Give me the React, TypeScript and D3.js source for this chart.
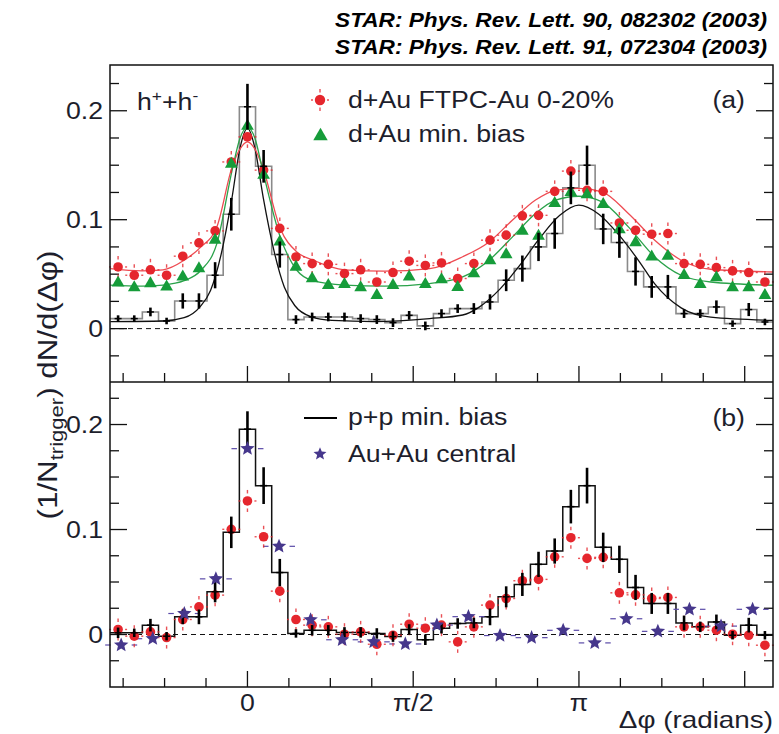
import React from "react";
import * as d3 from "d3";

// ---------- binning (categories) ----------
const NB = 41;
const BW = (2 * Math.PI) / NB;
const bins = d3.range(-8, 33); // 41 bins
const phiBins = bins.map((k) => k * BW);
const SB = 21;
const SW = (2 * Math.PI) / SB;
const starBins = d3.range(-4, 17); // 21 bins
const phiStars = starBins.map((j) => j * SW);

// ---------- panel (a) ----------
const ppA = [
  0.0092, 0.0092, 0.0153, 0.007, 0.0254, 0.0254, 0.049, 0.105,
  0.2037, 0.149, 0.068, 0.0083, 0.0107, 0.0107, 0.0107, 0.0092, 0.0083, 0.0055, 0.0122, 0.0025, 0.0138,
  0.0184, 0.0184, 0.0245, 0.0444, 0.0551, 0.075, 0.0873, 0.1292, 0.15, 0.0915, 0.079, 0.0525, 0.0383,
  0.0383, 0.0138, 0.0138, 0.0199, 0.0046, 0.0175, 0.0061,
];
const ppAErr = [
  0.003, 0.003, 0.004, 0.003, 0.007, 0.007, 0.012, 0.015,
  0.021, 0.015, 0.012, 0.004, 0.004, 0.004, 0.004, 0.004, 0.004, 0.004, 0.004, 0.004, 0.004,
  0.004, 0.005, 0.007, 0.01, 0.012, 0.013, 0.014, 0.015, 0.018, 0.014, 0.014, 0.013, 0.01,
  0.011, 0.004, 0.004, 0.006, 0.003, 0.006, 0.003,
];
const dAuCentralA = [
  0.0566, 0.049, 0.054, 0.049, 0.0665, 0.0787, 0.0897, 0.153,
  0.176, 0.1455, 0.092, 0.0658, 0.0597, 0.059, 0.0505, 0.054, 0.0428, 0.0515, 0.0619, 0.058, 0.0603,
  0.046, 0.0597, 0.0812, 0.0858, 0.1035, 0.104, 0.126, 0.1446, 0.127, 0.126, 0.097, 0.0903, 0.0867,
  0.0873, 0.0597, 0.059, 0.056, 0.053, 0.0515, 0.0428,
];
const dAuMinBiasA = [
  0.042, 0.0377, 0.0414, 0.0383, 0.0475, 0.0551, 0.0812, 0.151,
  0.186, 0.141, 0.0796, 0.0566, 0.046, 0.0398, 0.0407, 0.0377, 0.0306, 0.0398, 0.0475, 0.0407, 0.045,
  0.038, 0.0505, 0.0625, 0.068, 0.0895, 0.085, 0.115, 0.125, 0.123, 0.114, 0.091, 0.079, 0.0658,
  0.0665, 0.049, 0.0407, 0.0469, 0.0377, 0.0377, 0.0306,
];
const fitPpA: [number, number][] = [
  [-1.3, 0.0065], [-0.8, 0.007], [-0.6, 0.01], [-0.45, 0.02], [-0.35, 0.035], [-0.25, 0.068],
  [-0.15, 0.118], [-0.07, 0.166], [0, 0.184], [0.07, 0.166], [0.15, 0.12], [0.25, 0.072],
  [0.35, 0.038], [0.45, 0.021], [0.6, 0.011], [0.8, 0.0075], [1.2, 0.0065], [1.727, 0.0092],
  [2.04, 0.0125], [2.2, 0.02], [2.39, 0.036], [2.58, 0.058], [2.77, 0.083], [2.96, 0.104],
  [3.14, 0.1133], [3.33, 0.105], [3.52, 0.086], [3.71, 0.062], [3.86, 0.041], [4.11, 0.019],
  [4.39, 0.0105], [4.98, 0.0076],
];
const fitCentralA: [number, number][] = [
  [-1.3, 0.055], [-1.0, 0.053], [-0.8, 0.054], [-0.6, 0.0628], [-0.44, 0.075], [-0.29, 0.0934],
  [-0.145, 0.1485], [-0.07, 0.165], [0, 0.1715], [0.07, 0.165], [0.145, 0.148], [0.311, 0.092],
  [0.468, 0.0704], [0.62, 0.063], [0.92, 0.054], [1.3, 0.0527], [1.727, 0.055], [2.04, 0.066],
  [2.29, 0.0796], [2.51, 0.0995], [2.73, 0.118], [2.92, 0.127], [3.14, 0.1287], [3.36, 0.1256],
  [3.61, 0.1057], [3.86, 0.0812], [4.11, 0.0628], [4.39, 0.0545], [4.98, 0.052],
];
const fitMinBiasA: [number, number][] = [
  [-1.3, 0.04], [-1.0, 0.039], [-0.8, 0.04], [-0.6, 0.044], [-0.44, 0.0536], [-0.29, 0.078],
  [-0.145, 0.1455], [-0.07, 0.175], [0, 0.185], [0.07, 0.175], [0.145, 0.145], [0.311, 0.084],
  [0.468, 0.0536], [0.62, 0.044], [0.92, 0.04], [1.3, 0.039], [1.727, 0.0414], [2.04, 0.0475],
  [2.29, 0.0628], [2.51, 0.084], [2.73, 0.1057], [2.92, 0.118], [3.14, 0.1215], [3.36, 0.1164],
  [3.61, 0.0934], [3.86, 0.0658], [4.11, 0.049], [4.39, 0.0428], [4.98, 0.0398],
];

// ---------- panel (b) ----------
const ppB = [
  0.0016, 0.0016, 0.0089, -0.0016, 0.0168, 0.0168, 0.0407, 0.0973,
  0.1956, 0.1418, 0.059, 0.001, 0.004, 0.004, 0.002, 0.002, 0.001, -0.002, 0.0048, -0.005, 0.006,
  0.0105, 0.011, 0.0168, 0.0359, 0.0477, 0.0668, 0.0795, 0.1218, 0.1418, 0.083, 0.0716, 0.0448, 0.0296,
  0.0296, 0.011, 0.0073, 0.012, -0.0007, 0.0089, -0.0007,
];
const ppBErr = [
  0.005, 0.004, 0.006, 0.004, 0.007, 0.007, 0.01, 0.015,
  0.017, 0.0175, 0.013, 0.004, 0.005, 0.005, 0.005, 0.005, 0.005, 0.005, 0.005, 0.005, 0.005,
  0.005, 0.005, 0.008, 0.01, 0.011, 0.012, 0.012, 0.016, 0.017, 0.014, 0.013, 0.012, 0.01,
  0.01, 0.007, 0.005, 0.007, 0.004, 0.007, 0.004,
];
const dAuCentralB = [
  0.0048, -0.0016, 0.0025, -0.0029, 0.0143, 0.0263, 0.0375, 0.1002,
  0.1272, 0.0931, 0.0413, 0.0143, 0.0089, 0.0073, 0.0003, 0.0025, -0.0093, -0.0007, 0.0098, 0.006, 0.0089,
  -0.007, 0.0073, 0.028, 0.0343, 0.0512, 0.0525, 0.074, 0.0922, 0.0725, 0.0735, 0.0397, 0.0378, 0.0343,
  0.0353, 0.0073, 0.0073, 0.0041, 0.0003, -0.0007, -0.0102,
];
const auAuB = [
  -0.01, -0.004, 0.02, 0.053, 0.177, 0.084, 0.014, -0.005, -0.007, -0.009, 0.009,
  0.017, -0.001, -0.003, 0.004, -0.008, 0.015, 0.003, 0.024, 0.008, 0.024,
];

const xTickVals = d3.range(-3, 13).map((i) => (i * Math.PI) / 8);
const yTickVals = d3.range(-1, 10).map((i) => i * 0.025);
const yTickLabels = ["0", "0.1", "0.2"];
const yTickLabelVals = [0, 0.1, 0.2];
const xTickLabels = ["0", "π/2", "π"];
const xTickLabelVals = [0, Math.PI / 2, Math.PI];

// ---------- layout ----------
const W = 779, H = 734;
const L = 110, R = 773, T = 65, M = 382, B = 687;
const FONT = "'Liberation Sans', Arial, Helvetica, sans-serif";
const TXT = "#1d1e2c";
const RED = "#e5262d";
const GREEN = "#169c3a";
const PURPLE = "#46378c";
const SX = 1.16;

const x = d3.scaleLinear().domain([-8.5 * BW, 32.5 * BW]).range([L, R]);
const yA = d3.scaleLinear().domain([-0.049, 0.242]).range([M, T]);
const yB = d3.scaleLinear().domain([-0.05, 0.2405]).range([B, M]);

function stepPath(vals: number[], y: d3.ScaleLinear<number, number>) {
  const pts: [number, number][] = phiBins.map((p, i) => [p - BW / 2, vals[i]]);
  pts.push([phiBins[phiBins.length - 1] + BW / 2, vals[vals.length - 1]]);
  return d3.line<[number, number]>().x((d) => x(d[0])).y((d) => y(d[1])).curve(d3.curveStepAfter)(pts) || "";
}
function fitPath(pts: [number, number][], y: d3.ScaleLinear<number, number>) {
  return d3.line<[number, number]>().x((d) => x(Math.max(x.domain()[0], Math.min(x.domain()[1], d[0])))).y((d) => y(d[1])).curve(d3.curveMonotoneX)(pts) || "";
}
function starShape(ro: number, ri: number) {
  const pts: [number, number][] = d3.range(10).map((i) => {
    const a = (i * Math.PI) / 5;
    const r = i % 2 === 0 ? ro : ri;
    return [r * Math.sin(a), -r * Math.cos(a)];
  });
  return (d3.line()(pts) || "") + "Z";
}

const triPath = d3.symbol().type(d3.symbolTriangle).size(70)() || "";
const triPathLeg = d3.symbol().type(d3.symbolTriangle).size(90)() || "";
const starPath = starShape(7.6, 3.4);
const starPathLeg = starShape(6.8, 3.0);

function Txt(props: { x: number; y: number; anchor?: string; size: number; children: React.ReactNode; weight?: string; italic?: boolean; fill?: string }) {
  const { x: tx, y: ty, anchor = "start", size, children, weight, italic, fill = TXT } = props;
  return (
    <g transform={`translate(${tx},${ty}) scale(${SX},1)`}>
      <text textAnchor={anchor as any} fontSize={size} fontFamily={FONT} fontWeight={weight} fontStyle={italic ? "italic" : undefined} fill={fill}>
        {children}
      </text>
    </g>
  );
}

function RedPoint({ cx, cy, r = 4.8 }: { cx: number; cy: number; r?: number }) {
  return (
    <g>
      <g stroke={RED} strokeWidth={1.4} opacity={0.8}>
        <line x1={cx} x2={cx} y1={cy - 11} y2={cy - 7.5} />
        <line x1={cx} x2={cx} y1={cy + 7.5} y2={cy + 11} />
        <line x1={cx - 9} x2={cx - 7} y1={cy} y2={cy} />
        <line x1={cx + 7} x2={cx + 9} y1={cy} y2={cy} />
      </g>
      <circle cx={cx} cy={cy} r={r} fill={RED} />
    </g>
  );
}

function Axes({ top, bottom, y }: { top: number; bottom: number; y: d3.ScaleLinear<number, number> }) {
  const isMaj = (v: number) => [0, 0.1, 0.2].some((m) => Math.abs(m - v) < 1e-6);
  const yt = yTickVals.filter((v) => y(v) > top + 2 && y(v) < bottom - 2);
  return (
    <g stroke="#111" strokeWidth={1.3}>
      {xTickVals.map((v, i) => {
        const maj = Math.abs(Math.round(v / (Math.PI / 2)) * (Math.PI / 2) - v) < 1e-6;
        return <line key={"x" + i} x1={x(v)} x2={x(v)} y1={bottom} y2={bottom - (maj ? 16 : 9)} />;
      })}
      {yt.map((v, i) => (
        <g key={"y" + i}>
          <line x1={L} x2={L + (isMaj(v) ? 17 : 9)} y1={y(v)} y2={y(v)} />
          <line x1={R} x2={R - (isMaj(v) ? 17 : 9)} y1={y(v)} y2={y(v)} />
        </g>
      ))}
      <line x1={L} x2={R} y1={y(0)} y2={y(0)} strokeDasharray="5,4" strokeWidth={1} />
    </g>
  );
}

function Crosses({ vals, errs, y }: { vals: number[]; errs: number[]; y: d3.ScaleLinear<number, number> }) {
  return (
    <g stroke="#000">
      {phiBins.map((p, i) => (
        <g key={i}>
          <line x1={x(p)} x2={x(p)} y1={y(vals[i] - errs[i])} y2={y(vals[i] + errs[i])} strokeWidth={2.6} />
          <line x1={x(p) - 3.5} x2={x(p) + 3.5} y1={y(vals[i])} y2={y(vals[i])} strokeWidth={1.5} />
        </g>
      ))}
    </g>
  );
}

export default function App() {
  return (
    <svg width={W} height={H} viewBox={`0 0 ${W} ${H}`} style={{ position: "absolute", left: 0, top: 0, background: "#fff" }}>
      <rect x={0} y={0} width={W} height={H} fill="#fff" />
      {/* title */}
      <Txt x={767} y={27} anchor="end" size={19.5} weight="bold" italic fill="#000">STAR: Phys. Rev. Lett. 90, 082302 (2003)</Txt>
      <Txt x={767} y={54} anchor="end" size={19.5} weight="bold" italic fill="#000">STAR: Phys. Rev. Lett. 91, 072304 (2003)</Txt>

      {/* ---------- panel a ---------- */}
      <Axes top={T} bottom={M} y={yA} />
      <path d={stepPath(ppA, yA)} fill="none" stroke="#8a8a8a" strokeWidth={1.6} />
      <path d={fitPath(fitPpA, yA)} fill="none" stroke="#111" strokeWidth={1.3} />
      <path d={fitPath(fitCentralA, yA)} fill="none" stroke="#ee4b52" strokeWidth={1.3} />
      <path d={fitPath(fitMinBiasA, yA)} fill="none" stroke="#2aa24a" strokeWidth={1.3} />
      {phiBins.map((p, i) => <RedPoint key={"ra" + i} cx={x(p)} cy={yA(dAuCentralA[i])} />)}
      {phiBins.map((p, i) => (
        <path key={"ga" + i} d={triPath} transform={`translate(${x(p)},${yA(dAuMinBiasA[i])})`} fill={GREEN} />
      ))}
      <Crosses vals={ppA} errs={ppAErr} y={yA} />

      {/* ---------- panel b ---------- */}
      <Axes top={M} bottom={B} y={yB} />
      <path d={stepPath(ppB, yB)} fill="none" stroke="#111" strokeWidth={1.5} />
      {phiStars.map((p, i) => (
        <g key={"sd" + i} stroke="#5a4aa8" strokeWidth={1.2}>
          <line x1={x(p) - 16} x2={x(p) - 10.5} y1={yB(auAuB[i])} y2={yB(auAuB[i])} />
          <line x1={x(p) + 10.5} x2={x(p) + 16} y1={yB(auAuB[i])} y2={yB(auAuB[i])} />
        </g>
      ))}
      {phiBins.map((p, i) => <RedPoint key={"rb" + i} cx={x(p)} cy={yB(dAuCentralB[i])} />)}
      <Crosses vals={ppB} errs={ppBErr} y={yB} />
      {phiStars.map((p, i) => (
        <path key={"s" + i} d={starPath} transform={`translate(${x(p)},${yB(auAuB[i])})`} fill={PURPLE} />
      ))}

      {/* frame */}
      <rect x={L} y={T} width={R - L} height={B - T} fill="none" stroke="#111" strokeWidth={1.5} />
      <line x1={L} x2={R} y1={M} y2={M} stroke="#111" strokeWidth={1.5} />

      {/* y tick labels */}
      {yTickLabelVals.map((v, i) => (
        <g key={"yl" + i}>
          <Txt x={103} y={yA(v) + 8} anchor="end" size={23}>{yTickLabels[i]}</Txt>
          <Txt x={103} y={yB(v) + 8} anchor="end" size={23}>{yTickLabels[i]}</Txt>
        </g>
      ))}
      {/* x tick labels */}
      {xTickLabelVals.map((v, i) => (
        <Txt key={"xl" + i} x={x(v)} y={711} anchor="middle" size={23}>{xTickLabels[i]}</Txt>
      ))}
      <Txt x={773} y={728} anchor="end" size={24}>Δφ (radians)</Txt>

      {/* y axis title */}
      <g transform={`translate(57,385) rotate(-90) scale(${SX},1)`}>
        <text textAnchor="middle" fontSize={27} fontFamily={FONT} fill={TXT}>
          (1/N<tspan fontSize={19} dy={6}>trigger</tspan><tspan dy={-6}>) dN/d(Δφ)</tspan>
        </text>
      </g>

      {/* panel a labels & legend */}
      <Txt x={137} y={110} size={23}>
        h<tspan fontSize={15} dy={-9}>+</tspan><tspan dy={9}>+h</tspan><tspan fontSize={15} dy={-9}>-</tspan>
      </Txt>
      <Txt x={745} y={108} anchor="end" size={23}>(a)</Txt>
      <RedPoint cx={320} cy={100} r={5.2} />
      <Txt x={348} y={108} size={23}>d+Au FTPC-Au 0-20%</Txt>
      <path d={triPathLeg} transform="translate(320.5,136)" fill={GREEN} />
      <Txt x={348} y={142} size={23}>d+Au min. bias</Txt>

      {/* panel b legend */}
      <line x1={304} x2={337} y1={418} y2={418} stroke="#000" strokeWidth={2} />
      <Txt x={348} y={425} size={23}>p+p min. bias</Txt>
      <path d={starPathLeg} transform="translate(320,454)" fill={PURPLE} />
      <Txt x={348} y={462} size={23}>Au+Au central</Txt>
      <Txt x={745} y={426} anchor="end" size={23}>(b)</Txt>
    </svg>
  );
}
